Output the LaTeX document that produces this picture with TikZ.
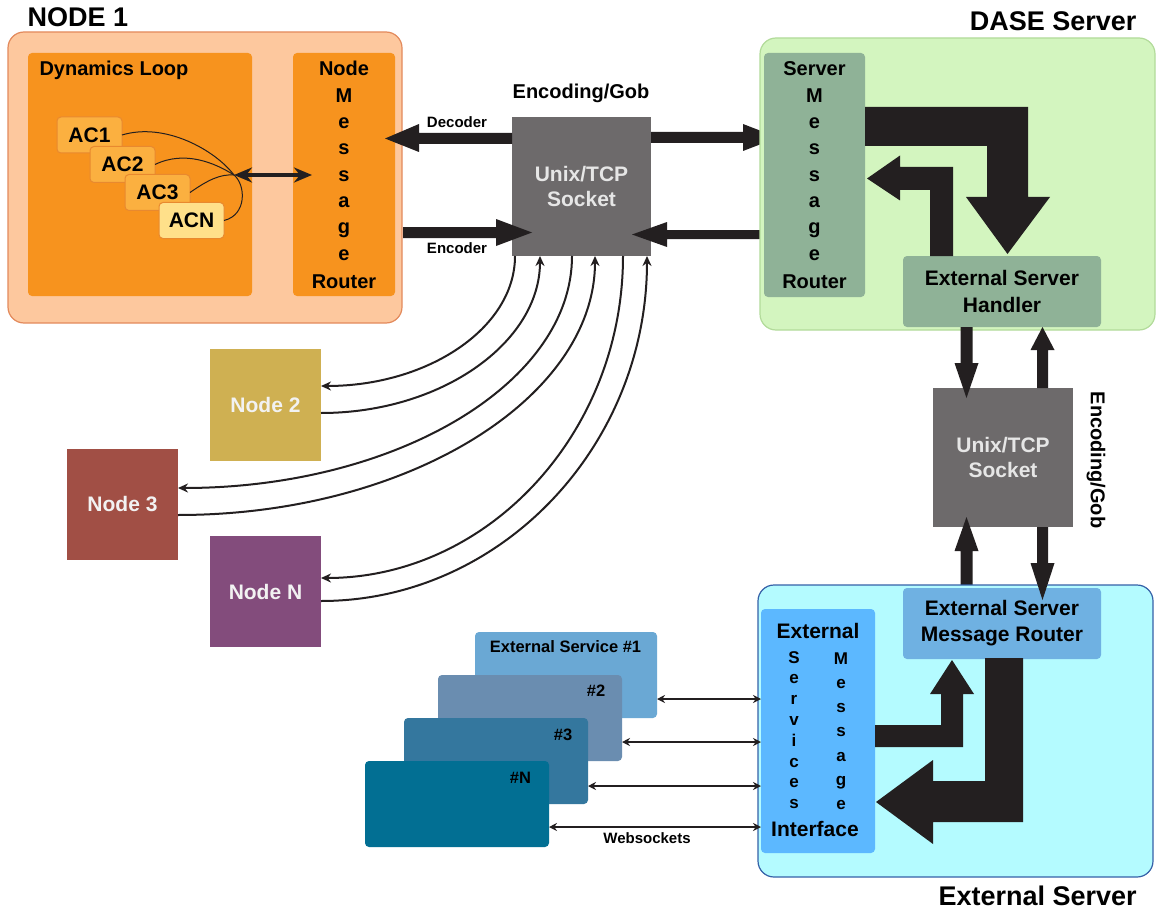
\documentclass[tikz,border=0pt]{standalone}
\usepackage{fontspec}
\setmainfont{Liberation Sans}
\usetikzlibrary{arrows.meta,calc}
\definecolor{arr}{HTML}{231F20}
\definecolor{peach}{HTML}{FDC89E}
\definecolor{peachb}{HTML}{E38A5C}
\definecolor{orng}{HTML}{F7931E}
\definecolor{acfill}{HTML}{FBB040}
\definecolor{acborder}{HTML}{E8892F}
\definecolor{acnfill}{HTML}{FFE08A}
\definecolor{sockgray}{HTML}{6D6A6B}
\definecolor{socktxt}{HTML}{E6E6E6}
\definecolor{dasefill}{HTML}{D3F5BF}
\definecolor{daseb}{HTML}{B2DB9A}
\definecolor{sage}{HTML}{8FB297}
\definecolor{extfill}{HTML}{B4FBFF}
\definecolor{extb}{HTML}{3561A8}
\definecolor{esmrfill}{HTML}{6FB1E2}
\definecolor{ifcfill}{HTML}{5CB8FF}
\definecolor{esA}{HTML}{6AA8D4}
\definecolor{esB}{HTML}{6A8DB0}
\definecolor{esC}{HTML}{34779E}
\definecolor{esD}{HTML}{026F93}
\definecolor{ntwo}{HTML}{CFB052}
\definecolor{nthree}{HTML}{A14F45}
\definecolor{nN}{HTML}{834C7C}
\definecolor{ntxt}{HTML}{F2F2F2}
\newcommand\fsz[2]{\fontsize{#1}{#2}\selectfont\bfseries}
\begin{document}
\begin{tikzpicture}[x=1pt,y=-1pt,font=\bfseries,
  blk/.style={inner sep=0pt,outer sep=0pt,rounded corners=4pt},
  bigbox/.style={inner sep=0pt,outer sep=0pt,rounded corners=16pt,line width=1.2pt},
  acbox/.style={blk,draw=acborder,line width=1pt,fill=acfill,minimum width=65pt,minimum height=36pt,font=\fsz{21}{24}},
  sqnode/.style={inner sep=0pt,outer sep=0pt,text=ntxt,font=\fsz{21}{24},minimum width=111pt,minimum height=111pt},
  esbox/.style={blk,minimum width=184pt,minimum height=86pt},
  thinarr/.style={draw=arr,line width=2pt,-{Stealth[length=10pt,width=9pt]}},
  wsarr/.style={draw=arr,line width=1.5pt,{Stealth[length=8pt,width=8pt]}-{Stealth[length=8pt,width=8pt]}},
  accurve/.style={draw=arr,line width=1pt},
  ltr/.style={anchor=base,font=\fsz{20}{20}},
  sltr/.style={anchor=base,font=\fsz{17}{17}}
]
\useasboundingbox (0,0) rectangle (1156,912);
\fill[white] (0,0) rectangle (1156,912);

% ---------------- NODE 1 ----------------
\node[anchor=base west,font=\fsz{27}{30}] (t1) at (24,27) {NODE 1};
\node[bigbox,draw=peachb,fill=peach,minimum width=394pt,minimum height=291pt] (node1) at (205,177.5) {};
\node[blk,fill=orng,minimum width=224pt,minimum height=243pt] (dyn) at (140,174.5) {};
\node[anchor=base west,font=\fsz{20}{24}] (dyntxt) at (36,76) {Dynamics Loop};
\node[blk,fill=orng,minimum width=102pt,minimum height=243pt] (nmr) at (344,174.5) {};
\node[ltr] (nmrA) at (344,76) {Node};
\foreach \c [count=\i from 0] in {M,e,s,s,a,g,e}
  \node[ltr] (nmrL\i) at (344,{102.3+26.3*\i}) {\c};
\node[ltr] (nmrB) at (344,288) {Router};

\node[acbox] (ac1) at (89.5,135) {AC1};
\node[acbox] (ac2) at (122.5,164.5) {AC2};
\node[acbox] (ac3) at (157.5,192.5) {AC3};
\node[acbox,fill=acnfill] (acn) at (191.5,220.5) {ACN};
\coordinate (hub) at (234,175);
\draw[accurve] (ac1.east) .. controls (165,122) and (215,150) .. (hub);
\draw[accurve] (ac2.east) .. controls (185,150) and (215,163) .. (hub);
\draw[accurve] (ac3.east) .. controls (208,180) and (220,174) .. (hub);
\draw[accurve] (acn.east) .. controls (247,215) and (246,185) .. (hub);
\draw[draw=arr,line width=3.5pt,{Stealth[length=18pt,width=15pt]}-{Stealth[length=18pt,width=15pt]}] (hub) -- (312,175);

% ---------------- central socket ----------------
\node[inner sep=0pt,outer sep=0pt,fill=sockgray,minimum width=139pt,minimum height=139pt,text=socktxt,align=center,font=\fsz{21}{25}] (sock) at (581.5,186.5) {Unix/TCP\\Socket};
\node[font=\fsz{20}{24}] (encg) at (581,93) {Encoding/Gob};
\node[font=\fsz{15}{18}] (dec) at (457,122.5) {Decoder};
\node[font=\fsz{15}{18}] (enc) at (457,248) {Encoder};
\fill[arr] (512,133)--(419,133)--(419,124)--(385,138.5)--(419,152)--(419,144)--(512,144)--cycle;
\fill[arr] (403,227)--(496,227)--(496,219)--(532,232.5)--(496,246)--(496,238)--(403,238)--cycle;
\fill[arr] (651,132)--(743,132)--(743,124)--(778,137.5)--(743,151)--(743,143)--(651,143)--cycle;
\fill[arr] (760,230)--(667,230)--(667,222)--(632,234.5)--(667,247)--(667,239)--(760,239)--cycle;

% ---------------- DASE server ----------------
\node[anchor=base east,font=\fsz{27}{30}] (t2) at (1140,31) {DASE Server};
\node[bigbox,draw=daseb,fill=dasefill,minimum width=395pt,minimum height=292pt] (dase) at (957.5,184) {};
\node[blk,fill=sage,minimum width=101pt,minimum height=244pt] (smr) at (814.5,175) {};
\node[ltr] (smrA) at (814.5,76) {Server};
\foreach \c [count=\i from 0] in {M,e,s,s,a,g,e}
  \node[ltr] (smrL\i) at (814.5,{102.3+26.3*\i}) {\c};
\node[ltr] (smrB) at (814.5,288) {Router};
\node[blk,fill=sage,minimum width=198pt,minimum height=71pt,align=center,font=\fsz{21}{27}] (esh) at (1002,291.5) {External Server\\Handler};
\fill[arr] (865,107)--(1028,107)--(1028,197)--(1050,197)--(1007.5,254)--(966,197)--(987,197)--(987,146)--(865,146)--cycle;
\fill[arr] (930,256)--(930,190)--(900,190)--(900,200.5)--(867,178.5)--(900,155.5)--(900,167)--(953,167)--(953,256)--cycle;

% ---------------- right socket ----------------
\node[inner sep=0pt,outer sep=0pt,fill=sockgray,minimum width=140pt,minimum height=139pt,text=socktxt,align=center,font=\fsz{21}{25}] (sock2) at (1003,457.5) {Unix/TCP\\Socket};
\node[rotate=-90,font=\fsz{20}{24}] (encg2) at (1096,460) {Encoding/Gob};
\fill[arr] (960.5,327)--(960.5,363)--(954.5,363)--(966.5,398)--(978.5,363)--(972.5,363)--(972.5,327)--cycle;
\fill[arr] (1037,388)--(1037,350)--(1030.5,350)--(1042.5,327)--(1054.5,350)--(1048,350)--(1048,388)--cycle;
\fill[arr] (960.5,588)--(960.5,551)--(954.5,551)--(966.5,517)--(978.5,551)--(972.5,551)--(972.5,588)--cycle;

% ---------------- External server ----------------
\node[bigbox,draw=extb,fill=extfill,minimum width=395pt,minimum height=292pt] (ext) at (955.5,731) {};
\node[anchor=base west,font=\fsz{27}{30}] (t3) at (935,905) {External Server};
\node[blk,fill=esmrfill,minimum width=198pt,minimum height=71pt,align=center,font=\fsz{21}{26}] (esmr) at (1002,623.5) {External Server\\Message Router};
\fill[arr] (1037,527)--(1037,563)--(1030.5,563)--(1042.5,600)--(1054.5,563)--(1048,563)--(1048,527)--cycle;
\node[blk,fill=ifcfill,minimum width=114pt,minimum height=244pt] (ifc) at (818,731) {};
\node[anchor=base,font=\fsz{21}{24}] (ifcA) at (818,638) {External};
\foreach \c [count=\i from 0] in {S,e,r,v,i,c,e,s}
  \node[sltr] (ifcS\i) at (794,{663+20.8*\i}) {\c};
\foreach \c [count=\i from 0] in {M,e,s,s,a,g,e}
  \node[sltr] (ifcM\i) at (841,{664+24.3*\i}) {\c};
\node[anchor=base,font=\fsz{21}{24}] (ifcB) at (815,836) {Interface};
\fill[arr] (875,725)--(941,725)--(941,694)--(930,694)--(952,660)--(974,694)--(963,694)--(963,747)--(875,747)--cycle;
\fill[arr] (985,658)--(1023,658)--(1023,822)--(933,822)--(933,844)--(876,802)--(933,760)--(933,781)--(985,781)--cycle;

% ---------------- External services ----------------
\node[blk,fill=esA,minimum width=182pt,minimum height=86pt] (es1) at (566,675) {};
\node[font=\fsz{16.5}{20}] (es1t) at (565.5,647) {External Service \#1};
\node[esbox,fill=esB] (es2) at (530,718) {};
\node[font=\fsz{16.5}{20}] (es2t) at (596,691) {\#2};
\node[esbox,fill=esC] (es3) at (496,761) {};
\node[font=\fsz{16.5}{20}] (es3t) at (563,734.5) {\#3};
\node[esbox,fill=esD] (esn) at (457,804) {};
\node[font=\fsz{16.5}{20}] (esnt) at (520.5,778) {\#N};
\coordinate (w1) at ($(es1.south east)+(0,-19)$);
\coordinate (w2) at ($(es2.south east)+(0,-19)$);
\coordinate (w3) at ($(es3.south east)+(0,-18)$);
\coordinate (w4) at ($(esn.south east)+(0,-20)$);
\draw[wsarr] (w1) -- (ifc.west |- w1);
\draw[wsarr] (w2) -- (ifc.west |- w2);
\draw[wsarr] (w3) -- (ifc.west |- w3);
\draw[wsarr] (w4) -- (ifc.west |- w4);
\node[font=\fsz{15}{18}] (ws) at (647,838) {Websockets};

% ---------------- other nodes ----------------
\node[sqnode,fill=ntwo,minimum height=112pt] (n2) at (265.5,405) {Node 2};
\node[sqnode,fill=nthree] (n3) at (122.5,504.5) {Node 3};
\node[sqnode,fill=nN] (nn) at (265.5,591.5) {Node N};

\draw[thinarr] ($(sock.south west)+(3,0)$) .. controls +(0,72) and +(107,0) .. ($(n2.north east)+(0,37)$);
\draw[thinarr] ($(n2.north east)+(0,64)$) .. controls +(121,0) and +(0,86) .. ($(sock.south west)+(28,0)$);
\draw[thinarr] ($(sock.south west)+(60,0)$) .. controls +(0,128) and +(217,0) .. ($(n3.north east)+(0,39)$);
\draw[thinarr] ($(n3.north east)+(0,66)$) .. controls +(230,0) and +(0,142) .. ($(sock.south west)+(83,0)$);
\draw[thinarr] ($(sock.south west)+(111,0)$) .. controls +(0,177) and +(167,0) .. ($(nn.north east)+(0,42)$);
\draw[thinarr] ($(nn.north east)+(0,65)$) .. controls +(180,0) and +(0,190) .. ($(sock.south west)+(135,0)$);
\end{tikzpicture}
\end{document}
